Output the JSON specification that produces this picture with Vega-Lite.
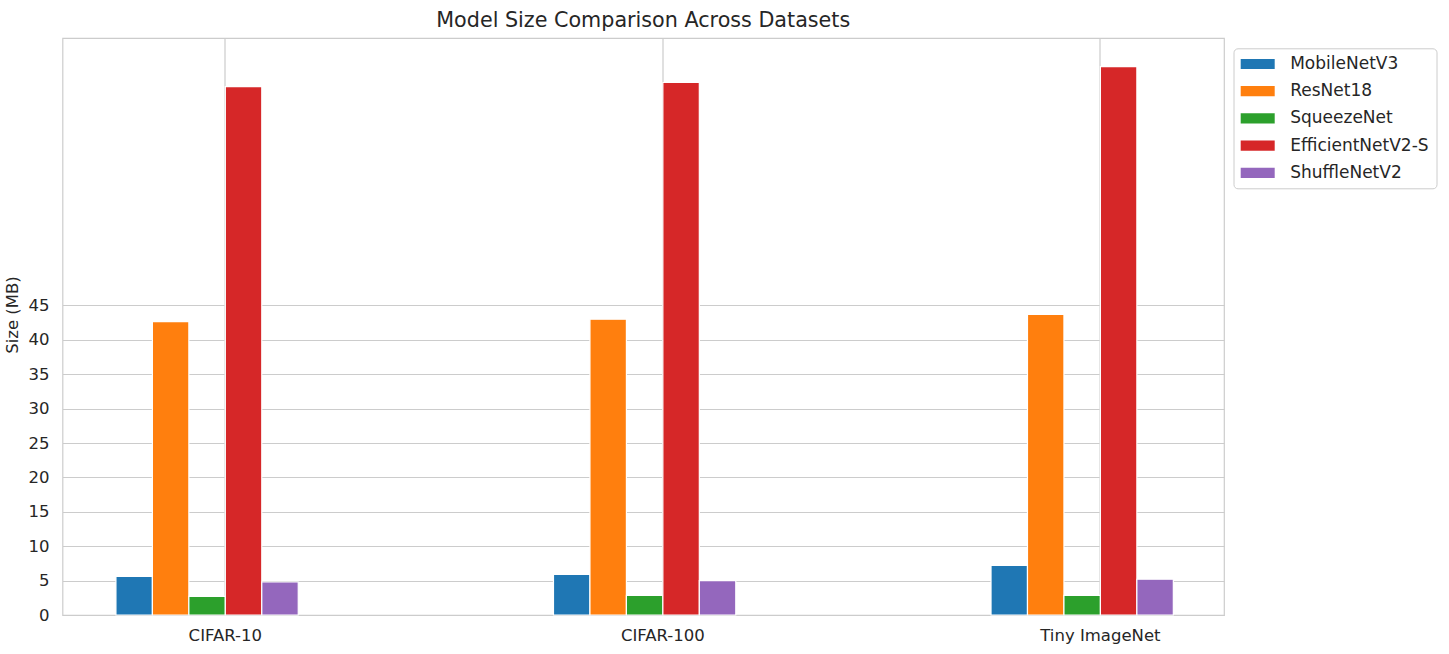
{
  "$schema": "https://vega.github.io/schema/vega-lite/v6.json",
  "width": 1161.5,
  "height": 577,
  "autosize": {"type": "none"},
  "padding": {"left": 62.5, "top": 38, "right": 225, "bottom": 39},
  "background": "white",
  "title": {
    "text": "Model Size Comparison Across Datasets",
    "font": "DejaVu Sans",
    "fontSize": 20.7,
    "fontWeight": "normal",
    "color": "#262626",
    "anchor": "middle",
    "frame": "group",
    "baseline": "alphabetic",
    "offset": 10,
    "dy": 20
  },
  "data": {
    "values": [
      {"dataset": "CIFAR-10", "model": "MobileNetV3", "size": 5.6},
      {"dataset": "CIFAR-10", "model": "ResNet18", "size": 42.65},
      {"dataset": "CIFAR-10", "model": "SqueezeNet", "size": 2.7},
      {"dataset": "CIFAR-10", "model": "EfficientNetV2-S", "size": 76.8},
      {"dataset": "CIFAR-10", "model": "ShuffleNetV2", "size": 4.8},
      {"dataset": "CIFAR-100", "model": "MobileNetV3", "size": 5.9},
      {"dataset": "CIFAR-100", "model": "ResNet18", "size": 43.0},
      {"dataset": "CIFAR-100", "model": "SqueezeNet", "size": 2.85},
      {"dataset": "CIFAR-100", "model": "EfficientNetV2-S", "size": 77.4},
      {"dataset": "CIFAR-100", "model": "ShuffleNetV2", "size": 5.0},
      {"dataset": "Tiny ImageNet", "model": "MobileNetV3", "size": 7.2},
      {"dataset": "Tiny ImageNet", "model": "ResNet18", "size": 43.7},
      {"dataset": "Tiny ImageNet", "model": "SqueezeNet", "size": 2.85},
      {"dataset": "Tiny ImageNet", "model": "EfficientNetV2-S", "size": 79.7},
      {"dataset": "Tiny ImageNet", "model": "ShuffleNetV2", "size": 5.2}
    ]
  },
  "mark": {"type": "bar", "stroke": "white", "strokeWidth": 1.2},
  "encoding": {
    "x": {
      "field": "dataset",
      "type": "nominal",
      "sort": ["CIFAR-10", "CIFAR-100", "Tiny ImageNet"],
      "scale": {"paddingInner": 0.5, "paddingOuter": 0.0773, "align": 0.79},
      "axis": {
        "title": null,
        "labelAngle": 0,
        "labelFont": "DejaVu Sans",
        "labelFontSize": 16.5,
        "labelColor": "#262626",
        "labelPadding": 12.5,
        "ticks": false,
        "tickSize": 0,
        "domain": false,
        "grid": true,
        "gridColor": "#cccccc",
        "gridWidth": 1.2,
        "bandPosition": 0.5
      }
    },
    "xOffset": {
      "field": "model",
      "type": "nominal",
      "scale": {
        "domain": ["MobileNetV3", "ResNet18", "SqueezeNet", "EfficientNetV2-S", "ShuffleNetV2", "_pad"],
        "paddingInner": 0,
        "paddingOuter": 0
      }
    },
    "y": {
      "field": "size",
      "type": "quantitative",
      "scale": {"domain": [0, 83.87], "nice": false, "zero": true},
      "axis": {
        "title": "Size (MB)",
        "titleFont": "DejaVu Sans",
        "titleFontSize": 16.5,
        "titleFontWeight": "normal",
        "titleColor": "#262626",
        "titleX": -50.5,
        "titleY": 276.5,
        "titleAngle": -90,
        "titleAlign": "center",
        "titleBaseline": "middle",
        "values": [0, 5, 10, 15, 20, 25, 30, 35, 40, 45],
        "labelFont": "DejaVu Sans",
        "labelFontSize": 16.5,
        "labelColor": "#262626",
        "labelPadding": 13.5,
        "ticks": false,
        "tickSize": 0,
        "domain": false,
        "grid": true,
        "gridColor": "#cccccc",
        "gridWidth": 1.2
      }
    },
    "color": {
      "field": "model",
      "type": "nominal",
      "scale": {
        "domain": ["MobileNetV3", "ResNet18", "SqueezeNet", "EfficientNetV2-S", "ShuffleNetV2"],
        "range": ["#1f77b4", "#ff7f0e", "#2ca02c", "#d62728", "#9467bd"]
      },
      "legend": {
        "title": null,
        "orient": "none",
        "legendX": 1171,
        "legendY": 10.3,
        "symbolType": "M-2,-0.6H2V0.6H-2Z",
        "symbolSize": 289,
        "symbolOffset": 8.5,
        "symbolStrokeWidth": 0,
        "labelFont": "DejaVu Sans",
        "labelFontSize": 17,
        "labelColor": "#262626",
        "labelOffset": 24,
        "rowPadding": 9.2,
        "padding": 7.2,
        "strokeColor": "#cccccc",
        "cornerRadius": 4,
        "fillColor": "white"
      }
    }
  },
  "config": {
    "view": {"stroke": "#cccccc", "strokeWidth": 1.2},
    "font": "DejaVu Sans"
  }
}
